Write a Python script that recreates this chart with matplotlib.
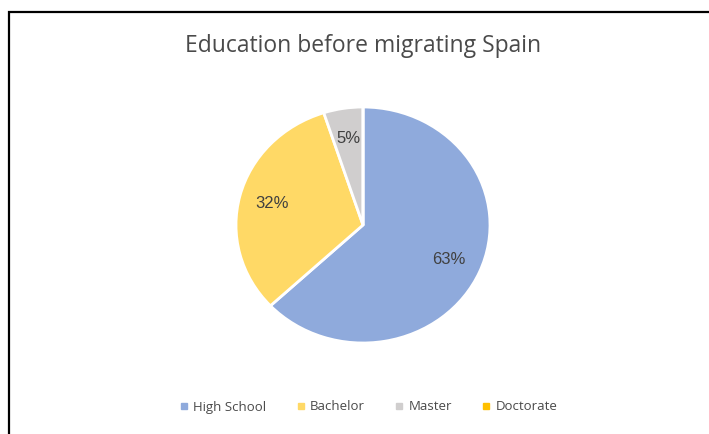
import matplotlib.pyplot as plt
from matplotlib.lines import Line2D
from matplotlib.patches import Rectangle

categories = ["High School", "Bachelor", "Master", "Doctorate"]
shares = [63, 32, 5, 0]
colors = ["#8FAADC", "#FFD966", "#D0CECE", "#FFC000"]

W, H = 709, 434
fig = plt.figure(figsize=(W / 100, H / 100), dpi=100)

# chart border (only left/top visible in the crop)
fig.patches.append(Rectangle((9 / W, -0.2), 1.2, 1 - 12 / H + 0.2,
                             transform=fig.transFigure, fill=False,
                             edgecolor="black", linewidth=1.6))

# pie slightly wider than tall, like the source image
cx, cy = 363, H - 225
rx, ry = 127, 118
ax = fig.add_axes([(cx - 1.25 * rx) / W, (cy - 1.25 * ry) / H,
                   2.5 * rx / W, 2.5 * ry / H])


def pct(v):
    return f"{v:.0f}%" if v > 0.5 else ""


wedges, texts, autotexts = ax.pie(
    shares, colors=colors, startangle=90, counterclock=False,
    autopct=pct, pctdistance=0.74,
    wedgeprops=dict(edgecolor="white", linewidth=2),
    textprops=dict(color="#404040", fontsize=12, family="Liberation Sans"))
ax.set_aspect("auto")
ax.set_xlim(-1.25, 1.25)
ax.set_ylim(-1.25, 1.25)

fig.text(cx / W, 1 - 46 / H, "Education before migrating Spain",
         ha="center", va="center", fontsize=16.5, color="#4a4a4a",
         family="Open Sans")

handles = [Line2D([], [], marker="s", linestyle="none", markersize=4,
                  markerfacecolor=c, markeredgecolor=c) for c in colors]
fig.legend(handles, categories, loc="center", bbox_to_anchor=(368 / W, 1 - 407 / H),
           ncol=4, frameon=False, handletextpad=0.3, columnspacing=2.2,
           handlelength=0.8,
           prop=dict(family="Open Sans", size=9.5), labelcolor="#4a4a4a")

fig.savefig("out.png", dpi=100)
